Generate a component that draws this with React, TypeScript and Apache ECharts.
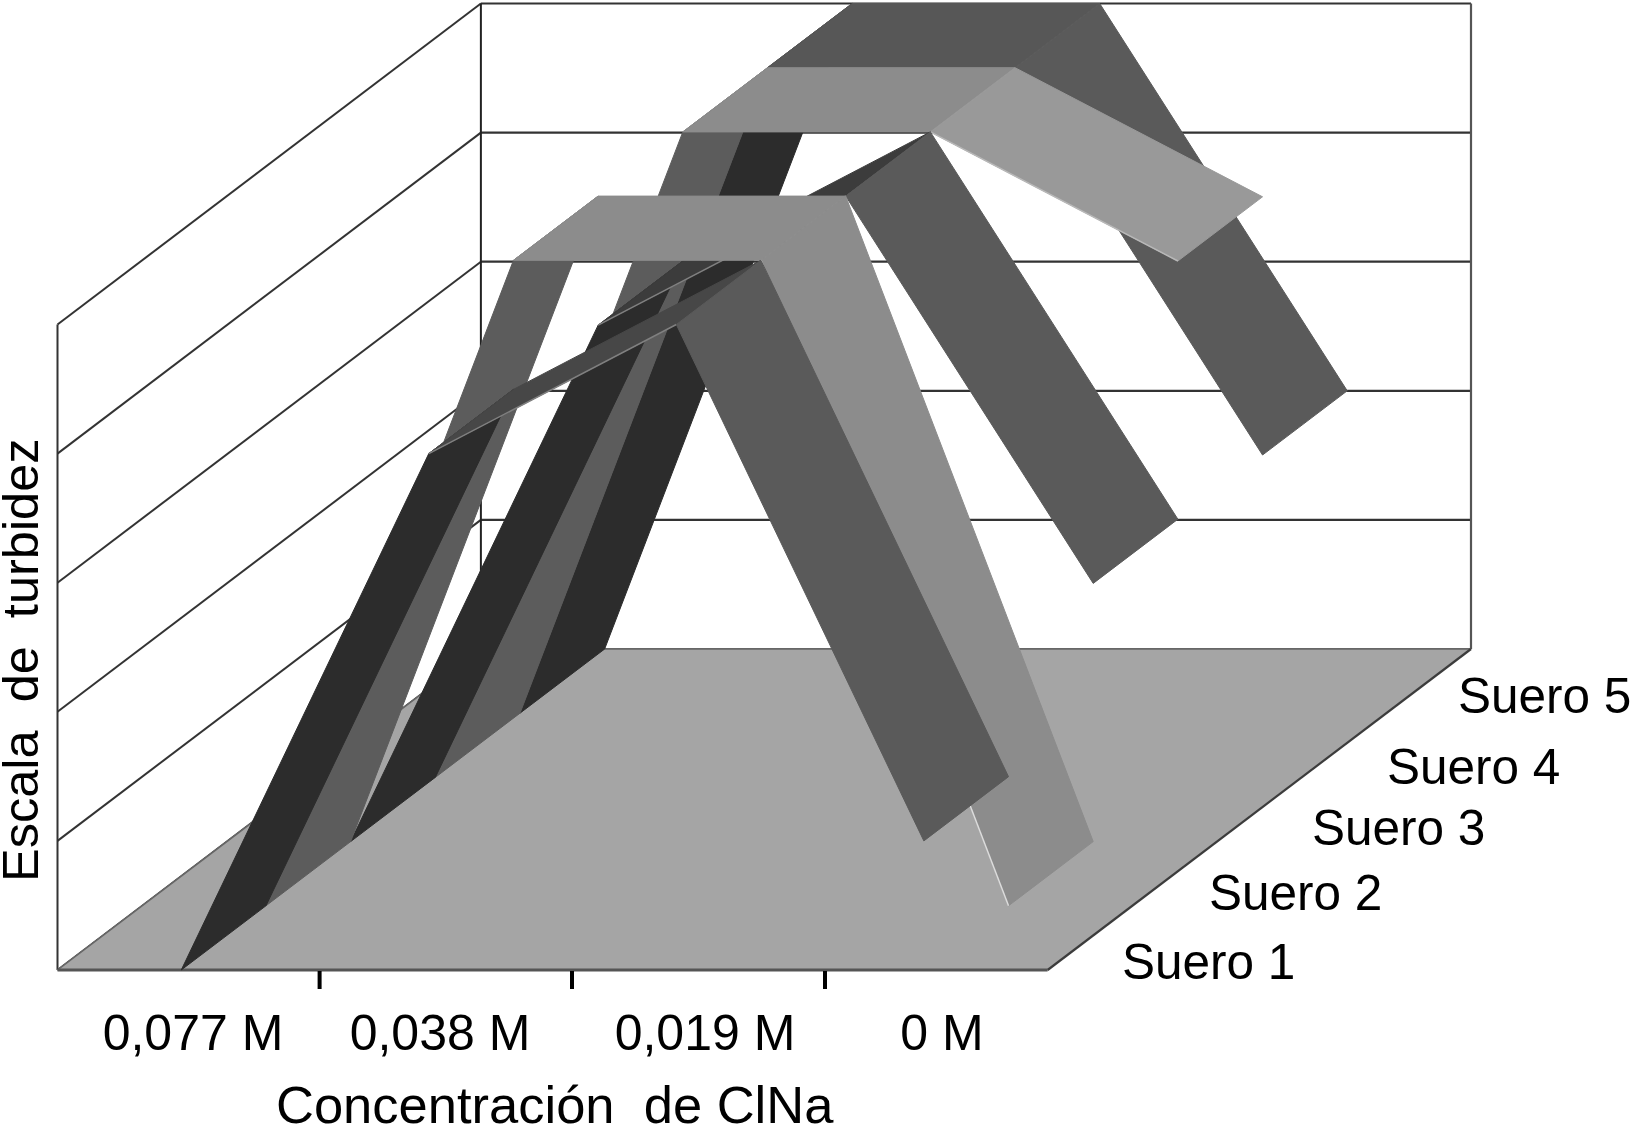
import React, { useEffect, useRef } from "react";
import * as echarts from "echarts";

const categories = ["0,077 M", "0,038 M", "0,019 M", "0 M"];
const seriesNames = ["Suero 1", "Suero 2", "Suero 3", "Suero 4", "Suero 5"];
const suero1 = [0, 4, 5, 1];
const suero2 = [0, 5, 5, 0];
const suero3 = [0, 4, 5, 2];
const suero4 = [0, 5, 5, 4];
const suero5 = [0, 5, 5, 2];
const allSeries = [suero1, suero2, suero3, suero4, suero5];
const gridLevels = [0, 1, 2, 3, 4, 5];
const xTitle = "Concentración  de ClNa";
const yTitle = "Escala  de  turbidez";

// one shade per segment of each ribbon
const shades = [
  ["#2c2c2c", "#474747", "#5a5a5a"],
  ["#5c5c5c", "#8c8c8c", "#8c8c8c"],
  ["#2c2c2c", "#3c3c3c", "#5a5a5a"],
  ["#5c5c5c", "#8c8c8c", "#999999"],
  ["#2c2c2c", "#575757", "#5a5a5a"],
];
const edges = [
  [null, "#808080", null],
  [null, null, "#dcdcdc"],
  [null, "#808080", null],
  [null, null, "#b8b8b8"],
  [null, null, null],
];

// oblique projection: one depth unit in category and value units
const LEFT = 57.5, RIGHT = 1471, TOP = 3.5, BOTTOM = 970;
const SX = 84.7 / 247.6;
const SY = 64.2 / 129.1;
const DEPTH = 5, NCAT = 4, VMAX = 5;
const P = (cat: number, depth: number, value: number) => [cat + depth * SX, value + depth * SY];

const ticksX = [319.6, 572, 825];
const catLabelX = [193, 440, 705, 942];
const catLabelY = 1033;
const serLabelX = [1122, 1209, 1312, 1387, 1458];
const serLabelY = [961, 892, 827.5, 766, 695];

const FONT = '"Liberation Sans", Arial, sans-serif';

export default function App() {
  const ref = useRef<HTMLDivElement>(null);
  useEffect(() => {
    document.body.style.margin = "0";
    const chart = echarts.init(ref.current!, undefined, { renderer: "svg" });

    const ribbons: number[][] = [];
    for (let s = allSeries.length - 1; s >= 0; s--) {
      for (let c = 0; c < NCAT - 1; c++) ribbons.push([s, c, allSeries[s][c], allSeries[s][c + 1]]);
    }

    const poly = (pts: number[][], fill: string, stroke?: string, lw = 1) => ({
      type: "polygon",
      shape: { points: pts },
      style: { fill, stroke: stroke ?? fill, lineWidth: lw, lineJoin: "miter" },
    });
    const line = (a: number[], b: number[], stroke: string, lw: number) => ({
      type: "line",
      shape: { x1: a[0], y1: a[1], x2: b[0], y2: b[1] },
      style: { stroke, lineWidth: lw },
    });

    const text = (t: string, x: number, y: number, size: number, align = "left", extra: any = {}) => ({
      type: "text",
      x,
      y,
      silent: true,
      style: { text: t, font: `${size}px ${FONT}`, fill: "#000", textAlign: align, textVerticalAlign: "middle", lineHeight: 38 },
      ...extra,
    });

    chart.setOption({
      animation: false,
      backgroundColor: "#ffffff",
      grid: { left: LEFT, top: TOP, width: RIGHT - LEFT, height: BOTTOM - TOP, containLabel: false },
      xAxis: { type: "value", min: 0, max: NCAT + DEPTH * SX, show: false },
      yAxis: { type: "value", min: 0, max: VMAX + DEPTH * SY, show: false },
      tooltip: { show: false },
      series: [
        {
          // walls: one line pair per level
          type: "custom",
          silent: true,
          clip: false,
          z: 1,
          data: gridLevels.map((v) => [v]),
          renderItem: (_p: any, api: any) => {
            const v = api.value(0);
            const a = api.coord(P(0, 0, v));
            const b = api.coord(P(0, DEPTH, v));
            const c = api.coord(P(NCAT, DEPTH, v));
            const col = "#333333";
            const children: any[] = [line(a, b, col, 2), line(b, c, col, 2.2)];
            if (v === VMAX) {
              children.push(line(api.coord(P(0, 0, 0)), a, col, 2));
              children.push(line(api.coord(P(0, DEPTH, 0)), b, "#222", 2));
              children.push(line(api.coord(P(NCAT, DEPTH, 0)), c, "#555", 2.2));
            }
            return { type: "group", children };
          },
        },
        {
          // floor
          type: "custom",
          silent: true,
          clip: false,
          z: 2,
          data: [[0]],
          renderItem: (_p: any, api: any) => {
            const v = api.value(0);
            const f0 = api.coord(P(0, 0, v));
            const f1 = api.coord(P(NCAT, 0, v));
            const f2 = api.coord(P(NCAT, DEPTH, v));
            const f3 = api.coord(P(0, DEPTH, v));
            return {
              type: "group",
              children: [
                poly([f0, f1, f2, f3], "#a5a5a5"),
                line(f0, f3, "#666", 1.5),
                line(f3, f2, "#666", 1.5),
                line(f1, f2, "#3c3c3c", 2.2),
                line(f0, f1, "#555", 3),
              ],
            };
          },
        },
        {
          // ribbons, back to front
          type: "custom",
          silent: true,
          clip: false,
          z: 3,
          data: ribbons,
          renderItem: (_p: any, api: any) => {
            const s = api.value(0), c = api.value(1), v0 = api.value(2), v1 = api.value(3);
            const cA = c + 0.5, cB = c + 1.5;
            const a = api.coord(P(cA, s, v0));
            const b = api.coord(P(cB, s, v1));
            const d = api.coord(P(cB, s + 1, v1));
            const e = api.coord(P(cA, s + 1, v0));
            const children: any[] = [poly([a, b, d, e], shades[s][c])];
            const edge = edges[s][c];
            if (edge) children.push(line(a, b, edge, 1.5));
            return { type: "group", children };
          },
        },
      ],
      graphic: {
        elements: [
          ...ticksX.map((x) => ({
            type: "rect",
            silent: true,
            z: 10,
            shape: { x: x - 2, y: 971, width: 4, height: 18 },
            style: { fill: "#000" },
          })),
          ...categories.map((t, i) => text(t, catLabelX[i], catLabelY, 50, "center")),
          ...seriesNames.map((t, i) => text(t, serLabelX[i], serLabelY[i], 49.5)),
          text(xTitle, 276, 1104, 52.5),
          text(yTitle, 20, 882, 50.5, "left", { rotation: Math.PI / 2 }),
        ],
      },
    });
    return () => chart.dispose();
  }, []);
  return <div ref={ref} style={{ position: "absolute", left: 0, top: 0, width: 1632, height: 1125 }} />;
}
